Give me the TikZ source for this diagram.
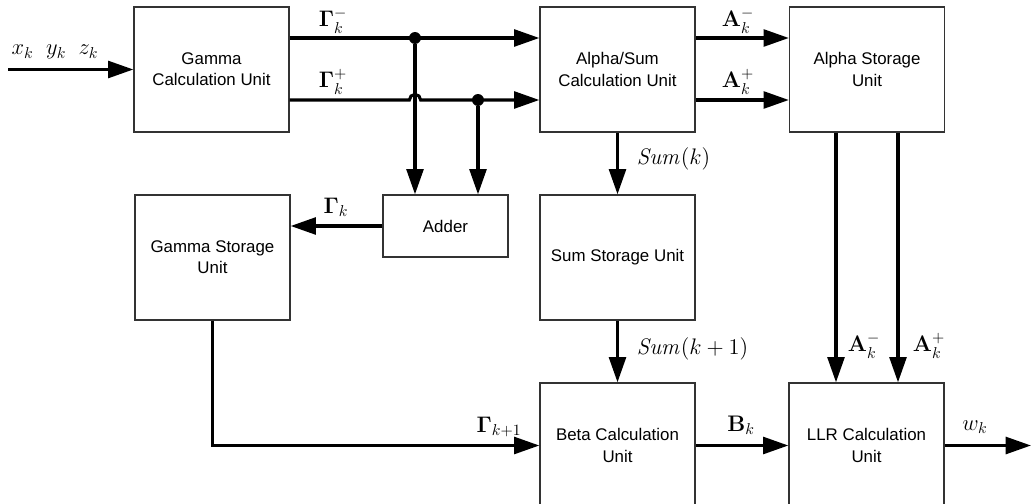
\RequirePackage{fix-cm}
\documentclass[tikz,border=0pt]{standalone}
\usepackage[no-math]{fontspec}
\setmainfont{Liberation Sans}
\usepackage{amsmath,amssymb}
\usetikzlibrary{arrows.meta}

\begin{document}
\begin{tikzpicture}[x=0.025cm,y=-0.025cm,>={Triangle[length=18pt,width=12pt]},
  unit/.style={draw=black!80,line width=0.9pt,minimum width=3.875cm,
    minimum height=3.125cm,inner sep=0pt,align=center,
    font=\fontsize{12}{15}\selectfont},
  wire/.style={line width=2.2pt},
  sig/.style={font=\fontsize{16}{18}\selectfont},
  dot/.style={circle,fill,inner sep=0pt,minimum size=8.5pt}]
  % frame in pixels of the reference, y pointing down
  \useasboundingbox (0,0) rectangle (1031,504);

  % units
  \node[unit] (gcu) at (211.5,69.5) {Gamma\\Calculation Unit};
  \node[unit] (asu) at (617.5,69.5) {Alpha/Sum\\Calculation Unit};
  \node[unit] (ast) at (867,69.5) {Alpha Storage\\Unit};
  \node[unit] (gst) at (212.5,257.5) {Gamma Storage\\Unit};
  \node[unit,minimum width=3.125cm,minimum height=1.55cm]
    (add) at (445.5,226) {Adder};
  \node[unit] (sst) at (617.5,257.5) {Sum Storage Unit};
  \node[unit] (bcu) at (617.5,445.5) {Beta Calculation\\Unit};
  \node[unit] (llr) at (866.5,445.5) {LLR Calculation\\Unit};

  % ports and branch points
  \coordinate (in) at (8,69.5);
  \coordinate (out) at (1031,445.5);
  \coordinate (j1) at (415,38);
  \coordinate (j2) at (478,100);
  \coordinate (am) at (836,0);
  \coordinate (ap) at (898,0);

  % input
  \draw[wire,->] (in) -- (gcu.west);
  \node[sig] (xyz) at (55,52) {$x_k\;\;y_k\;\;z_k$};

  % gamma outputs
  \draw[wire,->] (gcu.east |- j1) -- (asu.west |- j1);
  \draw[wire,->] (gcu.east |- j2) -- ([xshift=-4pt]j1 |- j2)
    arc[start angle=180,end angle=0,radius=4pt] -- (asu.west |- j2);
  \node[dot] (d1) at (j1) {};
  \node[dot] (d2) at (j2) {};
  \draw[wire,->] (d1) -- (j1 |- add.north);
  \draw[wire,->] (d2) -- (j2 |- add.north);
  \node[sig] (gm) at (333,21) {$\mathbf{\Gamma}_k^-$};
  \node[sig] (gp) at (333,82) {$\mathbf{\Gamma}_k^+$};

  % adder to gamma storage
  \draw[wire,->] (add.west) -- (add.west -| gst.east);
  \node[sig] (gk) at (336,207) {$\mathbf{\Gamma}_k$};

  % alpha outputs
  \draw[wire,->] (asu.east |- j1) -- (ast.west |- j1);
  \draw[wire,->] (asu.east |- j2) -- (ast.west |- j2);
  \node[sig] (am-lab) at (738,21) {$\mathbf{A}_k^-$};
  \node[sig] (ap-lab) at (738,82) {$\mathbf{A}_k^+$};

  % sum path
  \draw[wire,->] (asu.south) -- (sst.north);
  \node[sig,anchor=west] (s1) at (632,159) {$\mathit{Sum}(k)$};
  \draw[wire,->] (sst.south) -- (bcu.north);
  \node[sig,anchor=west] (s2) at (632,349) {$\mathit{Sum}(k+1)$};

  % gamma storage to beta
  \draw[wire,->] (gst.south) |- (bcu.west);
  \node[sig] (g1) at (499,427) {$\mathbf{\Gamma}_{k+1}$};

  % alpha storage to llr
  \draw[wire,->] (ast.south -| am) -- (llr.north -| am);
  \draw[wire,->] (ast.south -| ap) -- (llr.north -| ap);
  \node[sig] (al) at (864,346) {$\mathbf{A}_k^-$};
  \node[sig] (ar) at (929,346) {$\mathbf{A}_k^+$};

  % beta to llr, output
  \draw[wire,->] (bcu.east) -- (llr.west);
  \node[sig] (bk) at (741,425) {$\mathbf{B}_k$};
  \draw[wire,->] (llr.east) -- (out);
  \node[sig] (wk) at (975,427) {$w_k$};
\end{tikzpicture}
\end{document}
